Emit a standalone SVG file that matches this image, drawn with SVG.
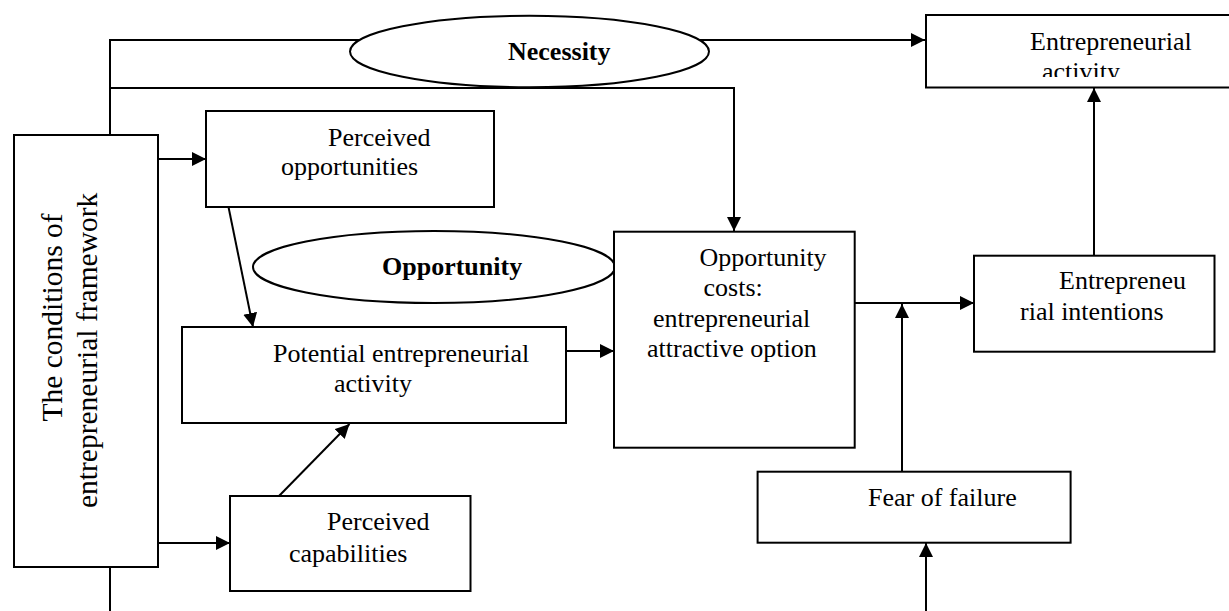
<svg xmlns="http://www.w3.org/2000/svg" width="1229" height="611" viewBox="0 0 1229 611">
<style>
.box{fill:#fff;stroke:#000;stroke-width:2}
.ell{fill:#fff;stroke:#000;stroke-width:2}
.t{font-family:"Liberation Serif","Times New Roman",serif;font-size:26px;fill:#000}
.v{font-size:29.5px}
.b{font-weight:bold}
.c{fill:none;stroke:#000;stroke-width:2}
</style>
<defs>
<marker id="ah" markerUnits="userSpaceOnUse" markerWidth="15" markerHeight="15" refX="14" refY="7" orient="auto">
<path d="M0,0 L14,7 L0,14 Z" fill="#000"/>
</marker>
<clipPath id="clipAct"><rect x="926" y="16" width="303" height="61"/></clipPath>
</defs>
<rect width="1229" height="611" fill="#fff"/>
<g id="connectors">
<path class="c" d="M110,135 V40 H925" marker-end="url(#ah)"/>
<path class="c" d="M110,88 H734 V231" marker-end="url(#ah)"/>
<path class="c" d="M158,159 H206" marker-end="url(#ah)"/>
<path class="c" d="M228.5,207 L253,327" marker-end="url(#ah)"/>
<path class="c" d="M158,543 H230" marker-end="url(#ah)"/>
<path class="c" d="M279,496 L349.5,424" marker-end="url(#ah)"/>
<path class="c" d="M566,351 H614" marker-end="url(#ah)"/>
<path class="c" d="M855,303 H974" marker-end="url(#ah)"/>
<path class="c" d="M902,472 V304" marker-end="url(#ah)"/>
<path class="c" d="M1094,256 V88" marker-end="url(#ah)"/>
<path class="c" d="M926,611 V543" marker-end="url(#ah)"/>
<path class="c" d="M110,567 V611"/>
</g>
<g id="necessity">
<ellipse class="ell" cx="529.5" cy="51.5" rx="179.5" ry="35.8"/>
<text class="t b" x="508" y="60">Necessity</text>
</g>
<g id="entrepreneurial-activity">
<rect class="box" x="926" y="15" width="310" height="72.5"/>
<text class="t" x="1030" y="50">Entrepreneurial</text>
<text class="t" x="1042" y="80" clip-path="url(#clipAct)">activity</text>
</g>
<g id="conditions">
<rect class="box" x="14" y="135" width="144" height="432"/>
<text class="t v" transform="translate(62,421.5) rotate(-90)">The conditions of</text>
<text class="t v" transform="translate(96.5,508) rotate(-90)">entrepreneurial framework</text>
</g>
<g id="perceived-opportunities">
<rect class="box" x="206" y="111" width="288" height="96"/>
<text class="t" x="328" y="146">Perceived</text>
<text class="t" x="281" y="175">opportunities</text>
</g>
<g id="opportunity">
<ellipse class="ell" cx="434" cy="267" rx="181" ry="36"/>
<text class="t b" x="382" y="275">Opportunity</text>
</g>
<g id="potential">
<rect class="box" x="182" y="327" width="384" height="96"/>
<text class="t" x="273" y="361.7">Potential entrepreneurial</text>
<text class="t" x="334" y="391.7">activity</text>
</g>
<g id="perceived-capabilities">
<rect class="box" x="230" y="496" width="240.5" height="95"/>
<text class="t" x="327" y="530">Perceived</text>
<text class="t" x="289" y="561.7">capabilities</text>
</g>
<g id="opportunity-costs">
<rect class="box" x="614" y="231.7" width="240.7" height="216"/>
<text class="t" x="699.5" y="265.7">Opportunity</text>
<text class="t" x="703.5" y="296">costs:</text>
<text class="t" x="653" y="326.7">entrepreneurial</text>
<text class="t" x="647" y="357.3">attractive option</text>
</g>
<g id="entrepreneurial-intentions">
<rect class="box" x="974" y="255.7" width="240.5" height="96"/>
<text class="t" x="1059" y="289.3">Entrepreneu</text>
<text class="t" x="1020" y="320">rial intentions</text>
</g>
<g id="fear">
<rect class="box" x="757.6" y="471.7" width="313" height="71"/>
<text class="t" x="868" y="506">Fear of failure</text>
</g>
</svg>
